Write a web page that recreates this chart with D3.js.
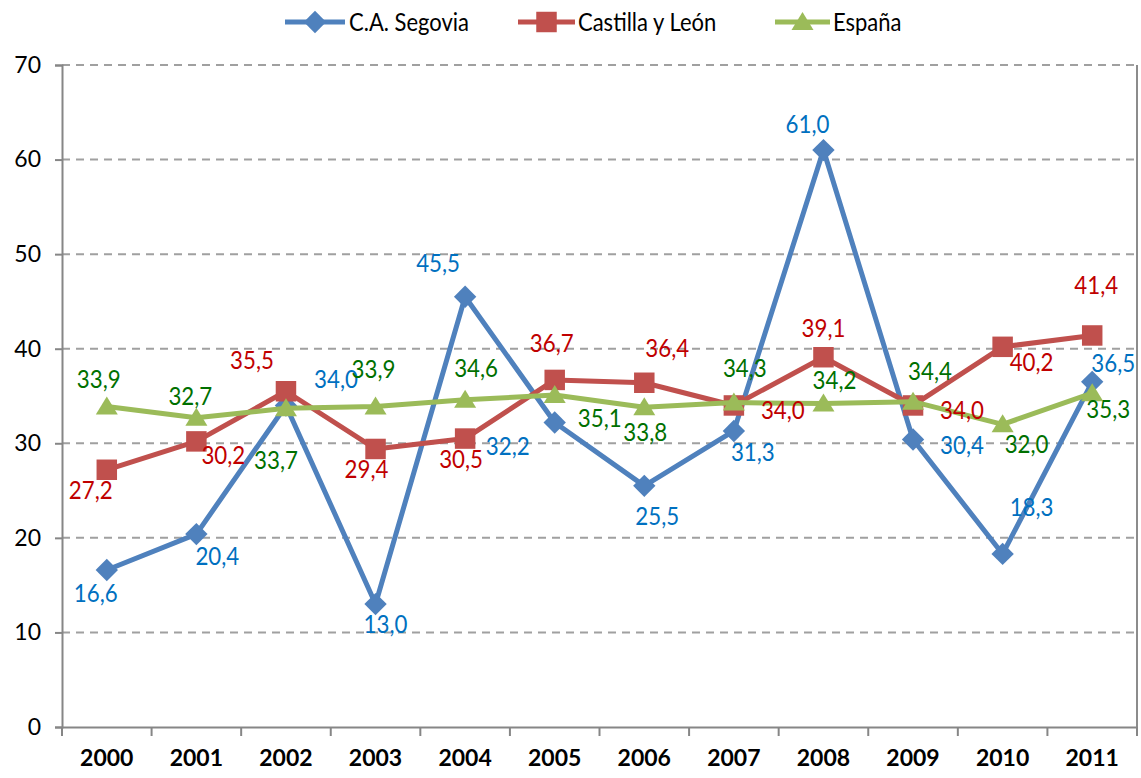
<!DOCTYPE html>
<html>
<head>
<meta charset="utf-8">
<script src="https://cdn.jsdelivr.net/npm/d3@7"></script>
<style>
  html, body { margin: 0; padding: 0; background: #fff; }
  text { font-family: Lato, "Open Sans", sans-serif; }
</style>
</head>
<body>
<svg id="chart" width="1141" height="778"></svg>
<script>
// ---- data ----
const years = ["2000","2001","2002","2003","2004","2005","2006","2007","2008","2009","2010","2011"];
const segovia = [16.6, 20.4, 34.0, 13.0, 45.5, 32.2, 25.5, 31.3, 61.0, 30.4, 18.3, 36.5];
const castilla = [27.2, 30.2, 35.5, 29.4, 30.5, 36.7, 36.4, 34.0, 39.1, 34.0, 40.2, 41.4];
const espana = [33.9, 32.7, 33.7, 33.9, 34.6, 35.1, 33.8, 34.3, 34.2, 34.4, 32.0, 35.3];
const seriesNames = ["C.A. Segovia", "Castilla y León", "España"];
const yTicks = [0, 10, 20, 30, 40, 50, 60, 70];

// label placement offsets (dx, dy) relative to each point, as laid out in the reference
const segoviaLabelOffsets = [[-11,22],[21,21],[50,-28],[10,19],[-27,-35],[-47,22],[13,29],[19,20],[-16,-27],[49,4],[29,-48],[21,-20]];
const castillaLabelOffsets = [[-16,19],[27,12],[-34,-32],[-9,19],[-4,19],[-3,-38],[23,-36],[49,3],[0,-30],[49,3],[29,14],[4,-52]];
const espanaLabelOffsets = [[-8,-29],[-6,-23],[-10,51],[-2,-39],[11,-33],[45,22],[1,23],[11,-36],[11,-25],[17,-32],[24,18],[16,15]];

(function () {
const svg = d3.select("#chart");
const pLeft = 62, pRight = 1137, pTop = 65, pBottom = 727;

const x = d3.scaleBand().domain(years).range([pLeft, pRight]).padding(0);
const y = d3.scaleLinear().domain([0, 70]).range([pBottom, pTop]);
const cx = d => x(d) + x.bandwidth() / 2;

const series = [
  { name: seriesNames[0], values: segovia, color: "#4F81BD", labelColor: "#0070C0", marker: "diamond", offsets: segoviaLabelOffsets },
  { name: seriesNames[1], values: castilla, color: "#C0504D", labelColor: "#C00000", marker: "square", offsets: castillaLabelOffsets },
  { name: seriesNames[2], values: espana, color: "#9BBB59", labelColor: "#007000", marker: "triangle", offsets: espanaLabelOffsets }
];

// gridlines
svg.append("g").selectAll("line").data(yTicks.filter(t => t > 0)).join("line")
  .attr("x1", pLeft).attr("x2", pRight)
  .attr("y1", d => y(d)).attr("y2", d => y(d))
  .attr("stroke", "#A0A0A0").attr("stroke-width", 2)
  .attr("stroke-dasharray", "8,6");

// right border
svg.append("line").attr("x1", pRight).attr("x2", pRight).attr("y1", pTop).attr("y2", pBottom)
  .attr("stroke", "#8C8C8C").attr("stroke-width", 2);

// y axis
const yAxis = d3.axisLeft(y).tickValues(yTicks).tickSize(7).tickPadding(14).tickFormat(d3.format("d"));
const gy = svg.append("g").attr("transform", `translate(${pLeft},0)`).call(yAxis);
gy.select(".domain").attr("stroke", "#868686").attr("stroke-width", 2);
gy.selectAll(".tick line").attr("stroke", "#868686").attr("stroke-width", 2);
gy.selectAll(".tick text").attr("font-size", 23).attr("fill", "#000").style("font-family", "Lato, sans-serif");

// x axis
const xAxis = d3.axisBottom(x).tickSize(0).tickPadding(23);
const gx = svg.append("g").attr("transform", `translate(0,${pBottom})`).call(xAxis);
gx.select(".domain").attr("stroke", "#868686").attr("stroke-width", 2);
gx.selectAll(".tick text").attr("font-size", 23).attr("font-weight", "bold").attr("fill", "#000").style("font-family", "Lato, sans-serif");
const bounds = years.map(d => x(d)).concat([pRight]);
gx.append("g").selectAll("line").data(bounds).join("line")
  .attr("x1", d => d).attr("x2", d => d).attr("y1", 0).attr("y2", 9)
  .attr("stroke", "#868686").attr("stroke-width", 2);

function markerPath(type) {
  if (type === "diamond") return d3.symbol().type(d3.symbolSquare).size(250)();
  if (type === "square") return d3.symbol().type(d3.symbolSquare).size(420)();
  return "M0,-10L11,8L-11,8Z";
}
function markerTransform(type, px, py) {
  return type === "diamond" ? `translate(${px},${py}) rotate(45)` : `translate(${px},${py})`;
}

const line = d3.line().x((d, i) => cx(years[i])).y(d => y(d));

series.forEach(s => {
  const g = svg.append("g");
  g.append("path").datum(s.values).attr("d", line)
    .attr("fill", "none").attr("stroke", s.color).attr("stroke-width", 5)
    .attr("stroke-linejoin", "round");
  g.selectAll("path.m").data(s.values).join("path").attr("class", "m")
    .attr("d", markerPath(s.marker))
    .attr("transform", (d, i) => markerTransform(s.marker, cx(years[i]), y(d)))
    .attr("fill", s.color);
});

// labels (slightly tall, like the narrow original face)
const fmt = v => v.toFixed(1).replace(".", ",");
series.forEach(s => {
  svg.append("g").selectAll("text").data(s.values).join("text")
    .attr("transform", (d, i) => `translate(${cx(years[i]) + s.offsets[i][0]},${y(d) + s.offsets[i][1]}) scale(0.97,1.12)`)
    .attr("text-anchor", "middle").attr("dominant-baseline", "central")
    .attr("font-size", 23).attr("fill", s.labelColor)
    .text(d => fmt(d));
});

// legend
const legendItems = [
  { s: series[0], x1: 285, x2: 345, tx: 349 },
  { s: series[1], x1: 518, x2: 575, tx: 578 },
  { s: series[2], x1: 775, x2: 830, tx: 833 }
];
const ly = 22;
const lg = svg.append("g");
legendItems.forEach(it => {
  lg.append("line").attr("x1", it.x1).attr("x2", it.x2).attr("y1", ly).attr("y2", ly)
    .attr("stroke", it.s.color).attr("stroke-width", 5);
  lg.append("path").attr("d", markerPath(it.s.marker))
    .attr("transform", markerTransform(it.s.marker, (it.x1 + it.x2) / 2, ly))
    .attr("fill", it.s.color);
  lg.append("text").attr("transform", `translate(${it.tx},${ly}) scale(1,1.12)`)
    .attr("dominant-baseline", "central")
    .attr("font-size", 22).attr("fill", "#000").text(it.s.name);
});
})();
</script>
</body>
</html>
